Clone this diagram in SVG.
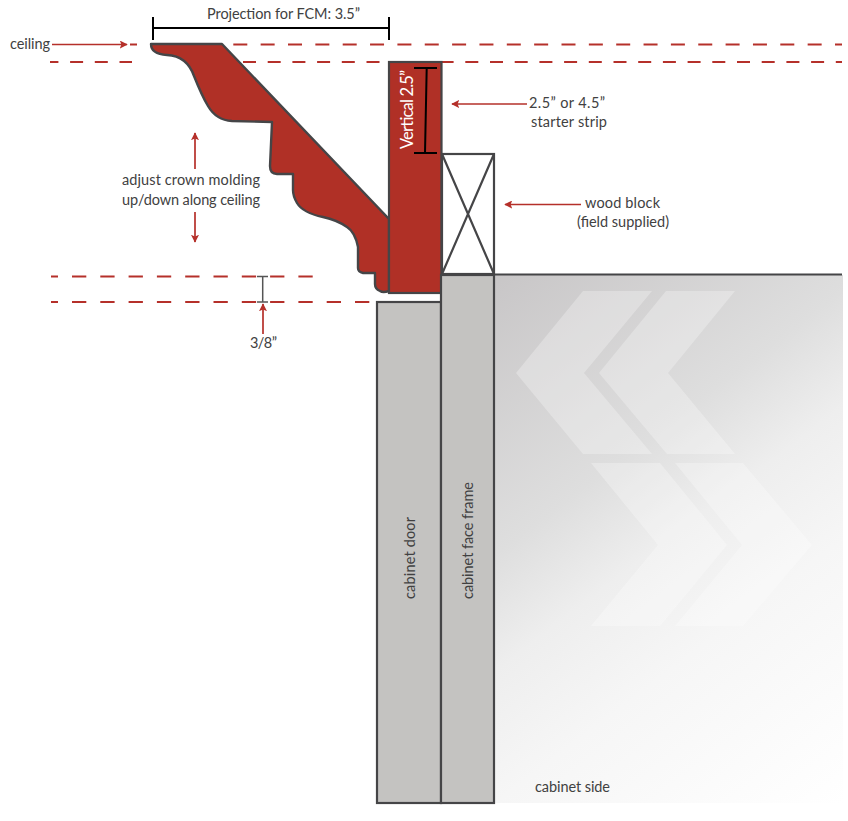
<svg xmlns="http://www.w3.org/2000/svg" width="848" height="821" viewBox="0 0 848 821">
<style>
.t{font-family:Lato,"Liberation Sans",sans-serif;font-size:14.5px;fill:#414141;text-anchor:middle}
.d{stroke:#b5302a;stroke-width:2;fill:none}
.a{stroke:#b5302a;stroke-width:1.700;fill:none;marker-end:url(#h)}
.k{stroke:#000;stroke-width:2;fill:none}
.o{stroke:#454547;stroke-width:2.200}
.c{fill:#fff;opacity:.28}
</style>
<defs>
<marker id="h" viewBox="0 0 10 10" refX="9" refY="5" markerWidth="8.500" markerHeight="8" markerUnits="userSpaceOnUse" orient="auto"><path d="M0 0L10 5L0 10L2 5Z" fill="#b5302a"/></marker>
<linearGradient id="g" gradientUnits="userSpaceOnUse" x1="494" y1="275" x2="876" y2="778"><stop offset="0" stop-color="#c8c6c7"/><stop offset=".354" stop-color="#dedede"/><stop offset=".5" stop-color="#eeeeee"/><stop offset=".667" stop-color="#f6f6f6"/><stop offset="1" stop-color="#fff"/></linearGradient>
</defs>
<g id="cabinet-side">
<rect x="494" y="275" width="349" height="528" fill="url(#g)"/>
<path class="c" d="M583 291H652L584 373L652 454H583L516 373Z"/>
<path class="c" d="M666 291H735L668 373L735 454H667L599 373Z"/>
<path class="c" d="M591 463H660L727 545L660 626H591L658 545Z"/>
<path class="c" d="M675 463H743L812 545L743 626H675L742 545Z"/>
<line class="o" x1="441" y1="274.500" x2="842" y2="274.500"/>
<text class="t" x="572.500" y="792" textLength="75">cabinet side</text>
</g>
<g id="connectors">
<path class="d" d="M130 44.500H137"/>
<path class="d" stroke-dasharray="14 13.350" d="M233.300 44.500H842"/>
<path class="d" stroke-dasharray="13 11.700" stroke-dashoffset="4.600" d="M50 62H132"/>
<path class="d" stroke-dasharray="13 11.700" d="M243 62H842"/>
<path class="d" stroke-dasharray="14.300 14" stroke-dashoffset="7.300" d="M51 276.500H314"/>
<path class="d" stroke-dasharray="14.300 14" stroke-dashoffset="7.300" d="M51 302H370"/>
<path class="a" d="M52 44.500H127"/>
<path class="a" d="M195 169V133"/>
<path class="a" d="M195 212V242"/>
<path class="a" d="M263 334V304"/>
<path class="a" d="M527 104H452"/>
<path class="a" d="M581 204.500H505"/>
</g>
<g id="crown-molding">
<path d="M151 44H222L389 219V291Q383 293 380 291Q375 289 375 284V273H363Q358 272 358 268V247Q355 232 347 227Q337 220 323 217Q303 213 297 203Q293 196 293 190V174H277Q270 174 270 166L272 122L232 121Q216 120 208 106Q202 96 194 76Q187 56 167 55Q151 54 151 44Z" fill="#b03026" stroke="#454547" stroke-width="2.400" stroke-linejoin="round"/>
</g>
<g id="starter-strip">
<rect x="389" y="62" width="52.500" height="231" fill="#b03026" class="o"/>
<text x="412.500" y="149" transform="rotate(-90 412.500 149)" textLength="79" style="font-family:Lato,'Liberation Sans',sans-serif;font-size:16.500px;fill:#fff;text-anchor:start">Vertical 2.5”</text>
<path class="k" d="M414 68H437M426.700 68L425 153M414 153H437"/>
<text class="t" x="567" y="107.500" textLength="76">2.5” or 4.5”</text>
<text class="t" x="569" y="127" textLength="76">starter strip</text>
</g>
<g id="wood-block">
<rect x="442" y="154" width="52" height="120" fill="#fff" class="o"/>
<path class="o" fill="none" d="M442 154L494 274M494 154L442 274"/>
<text class="t" x="622.500" y="208" textLength="75">wood block</text>
<text class="t" x="623" y="227" textLength="92">(field supplied)</text>
</g>
<g id="cabinet-door">
<rect x="377" y="302" width="64" height="501" fill="#c4c3c1" class="o"/>
<text class="t" transform="translate(415 558) rotate(-90)" textLength="82">cabinet door</text>
</g>
<g id="cabinet-face-frame">
<rect x="441" y="275" width="53" height="528" fill="#c4c3c1" class="o"/>
<text class="t" transform="translate(473 540.500) rotate(-90)" textLength="117">cabinet face frame</text>
</g>
<g id="dimensions">
<path class="k" d="M153 17V40M389 17V40M153 28H389"/>
<text class="t" x="283.500" y="19" textLength="153">Projection for FCM: 3.5”</text>
<path fill="none" stroke="#555" stroke-width="1.500" d="M257 276.500H268M262.700 276.500V302M257 302H268"/>
<text class="t" x="263.500" y="348" textLength="27">3/8”</text>
<text class="t" x="191" y="185" textLength="138">adjust crown molding</text>
<text class="t" x="191" y="205" textLength="138">up/down along ceiling</text>
<text class="t" x="30" y="49" textLength="40">ceiling</text>
</g>
</svg>
